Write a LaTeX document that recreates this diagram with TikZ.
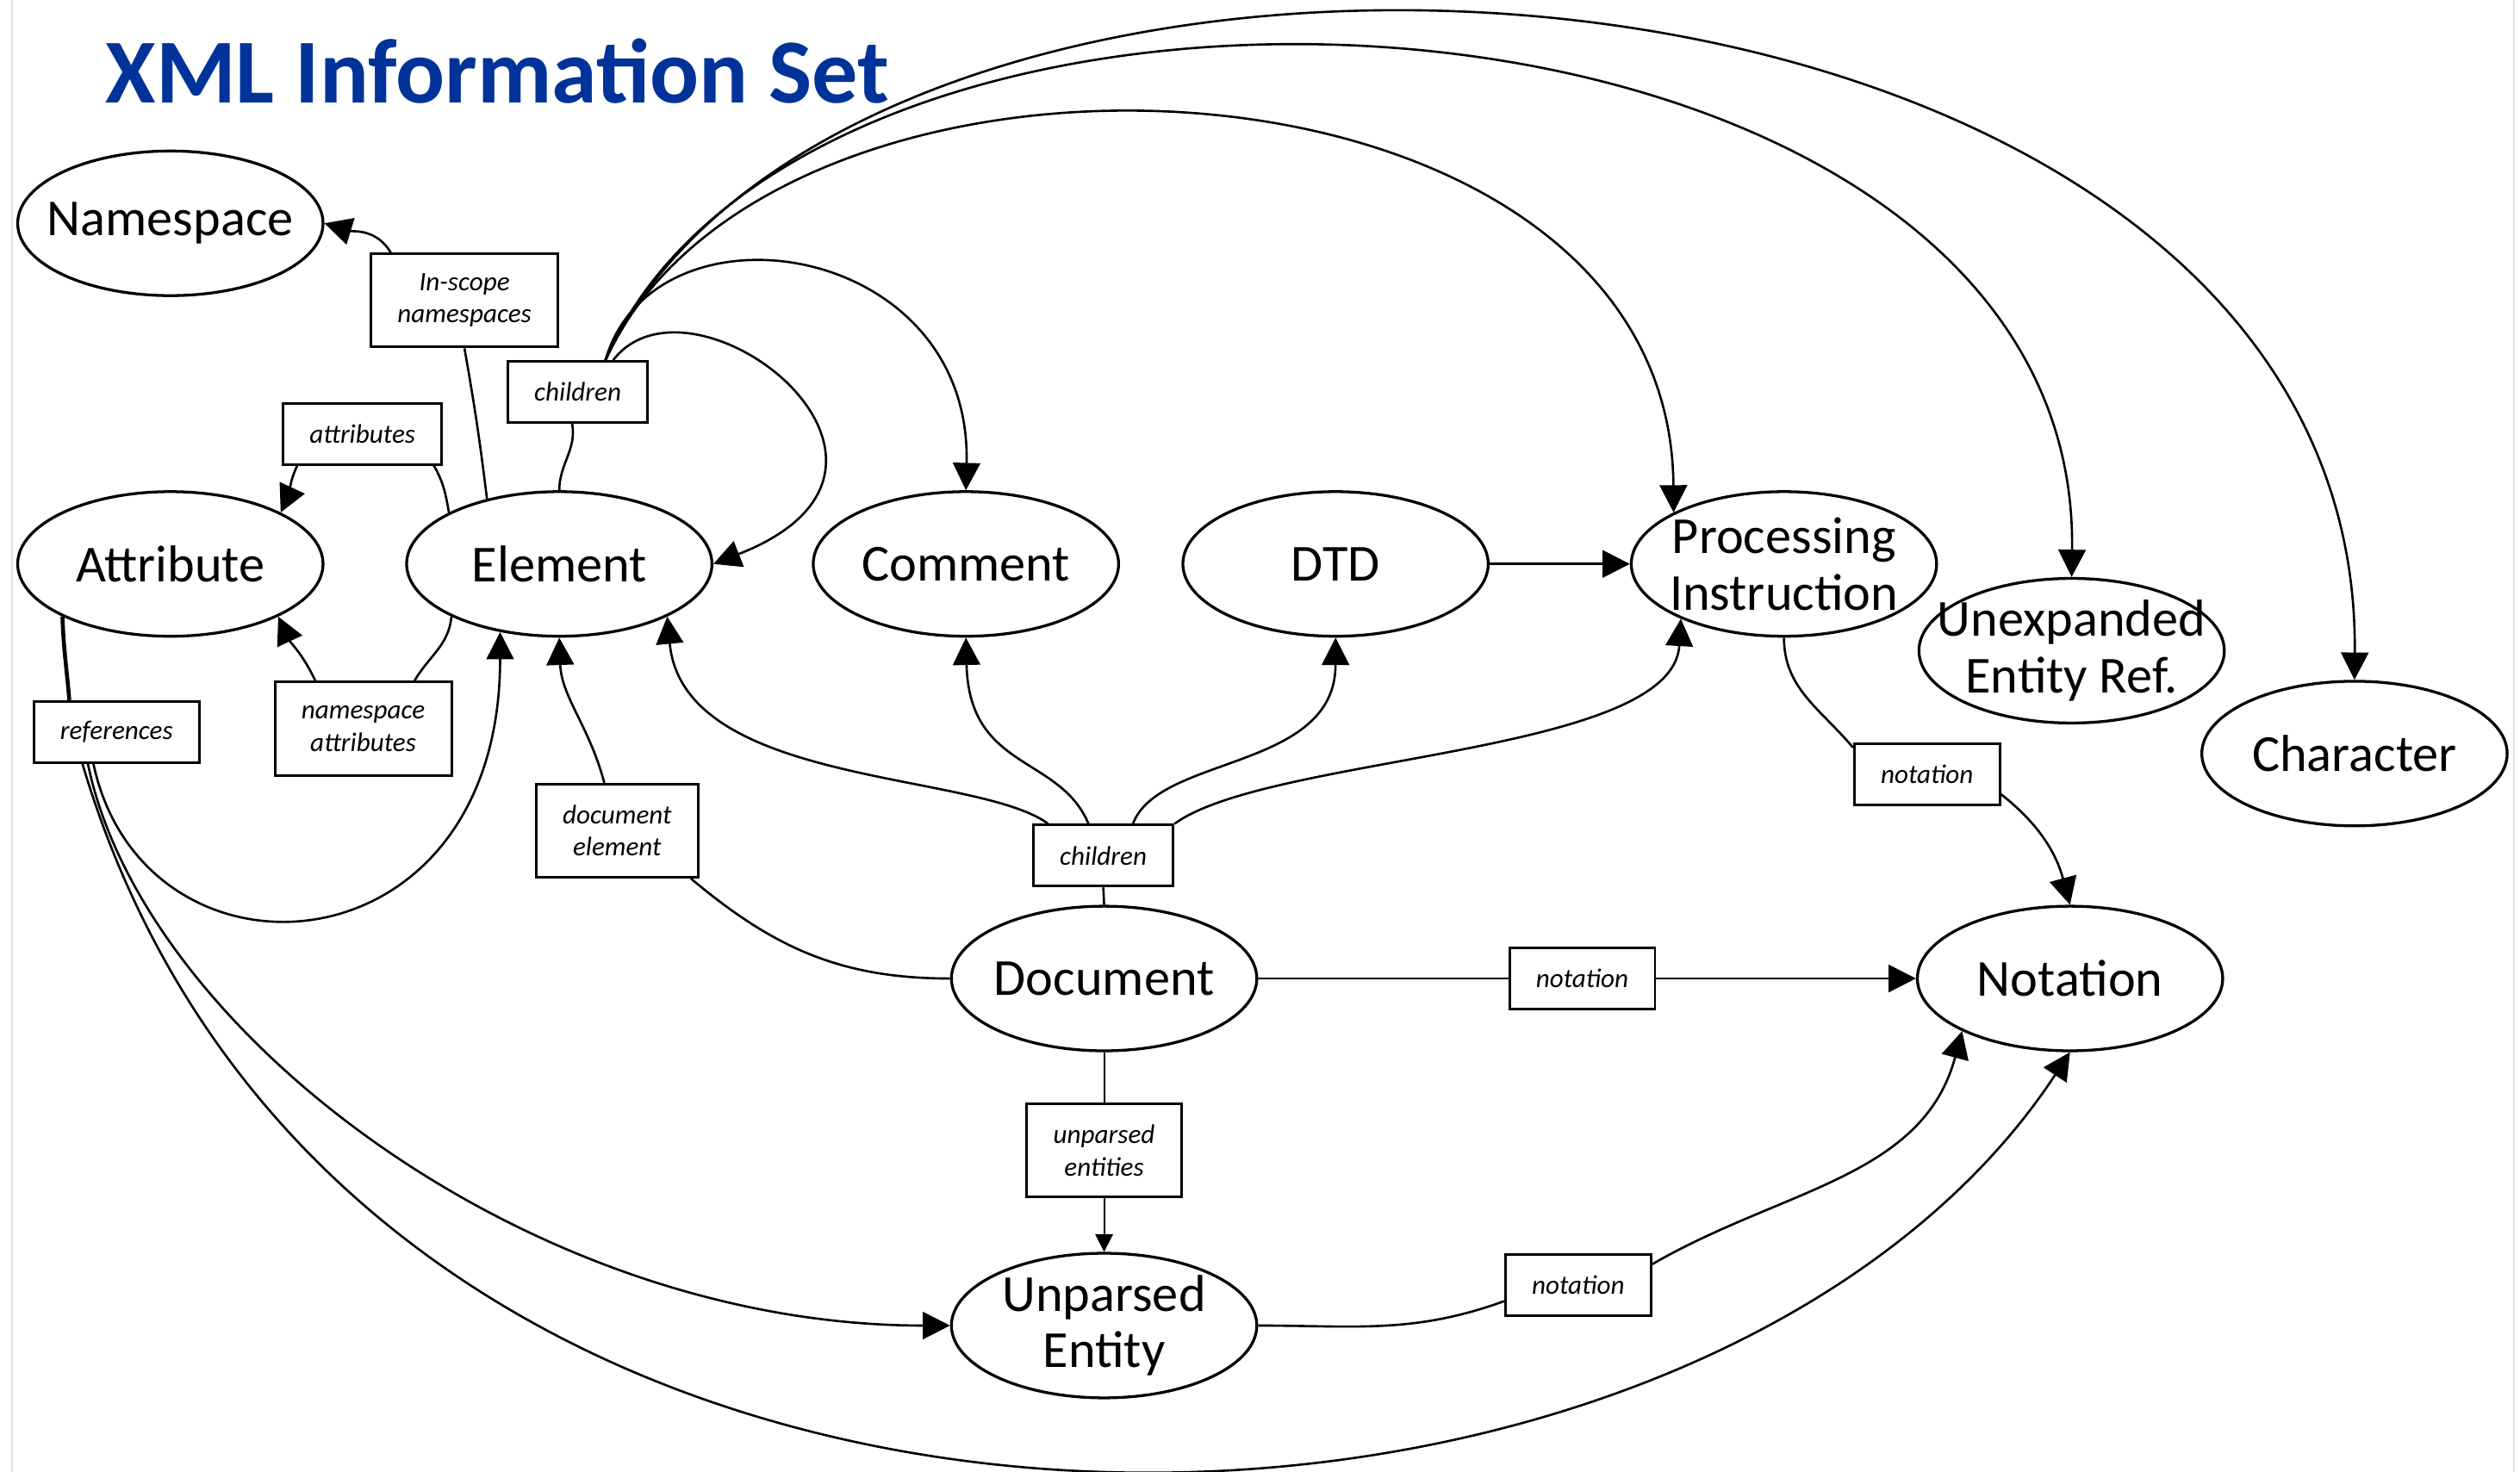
\documentclass[tikz,border=0pt]{standalone}
\usepackage{fontspec}
\setmainfont{Carlito}
\usetikzlibrary{shapes.geometric, arrows.meta}
\definecolor{titleblue}{RGB}{0, 51, 153}
\definecolor{rimgray}{gray}{0.88}

\begin{document}
\begin{tikzpicture}[
    >={Triangle[length=1.7mm, width=1.7mm]},
    entity/.style={draw, ellipse, line width=0.5pt, minimum width=1.9cm, minimum height=0.9cm,
      inner sep=-5mm, align=center, font=\fontsize{9.2}{10}\selectfont},
    prop/.style={draw, rectangle, line width=0.45pt, minimum height=0.38cm, inner xsep=0.165cm,
      inner ysep=0pt, align=center, font=\fontsize{4.75}{5.7}\selectfont\itshape},
    proptwo/.style={prop, minimum height=0.58cm},
    link/.style={line width=0.4pt}
  ]
  \useasboundingbox (0, 0) rectangle (15.68, -9.16);
  \draw[rimgray, line width=0.3pt] (0.075, 0) -- (0.075, -9.16);
  \draw[rimgray, line width=0.3pt] (15.64, 0) -- (15.64, -9.16);

  \node[anchor=base west, inner sep=0, text=titleblue, font=\fontsize{16.2}{18}\selectfont\bfseries]
    (title) at (0.65, -0.64) {XML Information Set};

  % information items
  \node[entity] (ns) at (1.06, -1.39) {Namespace};
  \node[entity] (attr) at (1.06, -3.51) {Attribute};
  \node[entity] (elem) at (3.48, -3.51) {Element};
  \node[entity] (comm) at (6.01, -3.51) {Comment};
  \node[entity] (dtd) at (8.31, -3.51) {DTD};
  \node[entity] (pi) at (11.10, -3.51) {Processing\\Instruction};
  \node[entity] (uer) at (12.89, -4.05) {Unexpanded\\Entity Ref.};
  \node[entity] (char) at (14.65, -4.69) {Character};
  \node[entity] (doc) at (6.87, -6.09) {Document};
  \node[entity] (nota) at (12.88, -6.09) {Notation};
  \node[entity] (upe) at (6.87, -8.25) {Unparsed\\Entity};

  % properties
  \node[proptwo] (lscope) at (2.89, -1.87) {In-scope\\namespaces};
  \node[prop] (lchild) at (3.595, -2.44) {children};
  \node[prop] (lattr) at (2.255, -2.70) {attributes};
  \node[proptwo] (lnsattr) at (2.26, -4.535) {namespace\\attributes};
  \node[prop] (lref) at (0.725, -4.555) {references};
  \node[proptwo] (ldocel) at (3.84, -5.17) {document\\element};
  \node[prop] (ldchild) at (6.865, -5.325) {children};
  \node[prop] (lpinot) at (11.99, -4.82) {notation};
  \node[prop] (ldocnot) at (9.845, -6.09) {notation};
  \node[proptwo] (lunpent) at (6.87, -7.16) {unparsed\\entities};
  \node[prop] (lupnot) at (9.82, -8.00) {notation};

  % element properties
  \draw[link] (elem.138) to[out=97, in=-80] (lscope.south);
  \draw[link, ->] (lscope.147) to[out=120, in=-17] (ns.east);
  \draw[link] (elem.155) to[out=100, in=-60] (lattr.-24);
  \draw[link, ->] (lattr.-154) to[out=-115, in=65] (attr.25);
  \draw[link] (elem.-154) to[out=-95, in=60] (lnsattr.43);
  \draw[link, ->] (lnsattr.135) to[out=115, in=-65] (attr.-26);
  \draw[link] (elem.north) to[out=90, in=-80] (lchild.-100);
  \draw[link, ->] (lchild.42) .. controls +(0.49, 0.64) and +(1.56, 0.61) .. (elem.east);
  \draw[link, ->] (lchild.49) .. controls +(0.3, 1.04) and +(0.04, 1.56) .. (comm.north);
  \draw[link, ->] (lchild.49) .. controls +(1.05, 2.3) and +(-0.02, 3.0) .. (pi.155);
  \draw[link, ->] (lchild.49) .. controls +(1.3, 3.0) and +(0.06, 3.89) .. (uer.north);
  \draw[link, ->] (lchild.49) .. controls +(1.6, 3.4) and +(0.05, 4.83) .. (char.north);

  % attribute references
  \draw[link, line width=0.7pt] (attr.-154) to[out=-88, in=95] (lref.146);
  \draw[link, ->] (lref.-126) .. controls +(0.31, -1.46) and +(0, -2.16) .. (elem.-131);
  \draw[link, ->] (lref.-132) .. controls +(0.34, -1.66) and +(-2.62, 0) .. (upe.west);
  \draw[link, ->] (lref.-137) .. controls +(1.68, -5.66) and +(-2.36, -3.59) .. (nota.south);

  % document properties
  \draw[link] (doc.north) -- (ldchild.south);
  \draw[link, ->] (ldchild.150) .. controls +(-0.45, 0.33) and +(0.10, -1.06) .. (elem.-26);
  \draw[link, ->] (ldchild.115) .. controls +(-0.18, 0.43) and +(0.02, -0.83) .. (comm.south);
  \draw[link, ->] (ldchild.47) .. controls +(0.16, 0.43) and +(0, -0.83) .. (dtd.south);
  \draw[link, ->] (ldchild.north east) .. controls +(0.59, 0.43) and +(-0.05, -0.85) .. (pi.-152);
  \draw[link] (doc.west) to[out=180, in=-40] (ldocel.-33);
  \draw[link, ->] (ldocel.105) to[out=105, in=-88] (elem.south);
  \draw[link] (doc.east) -- (ldocnot.west);
  \draw[link, ->] (ldocnot.east) -- (nota.west);
  \draw[link, line width=0.3pt] (doc.south) -- (lunpent.north);
  \draw[link, line width=0.3pt, -{Triangle[length=1.1mm, width=1.1mm]}] (lunpent.south) -- (upe.north);

  % notations
  \draw[link, ->] (dtd.east) -- (pi.west);
  \draw[link] (pi.south) to[out=-90, in=130] (lpinot.160);
  \draw[link, ->] (lpinot.-15) to[out=-38, in=105] (nota.north);
  \draw[link] (upe.east) to[out=0, in=-160] (lupnot.-168);
  \draw[link, ->] (lupnot.16) to[out=30, in=-105] (nota.-154);

\end{tikzpicture}
\end{document}
